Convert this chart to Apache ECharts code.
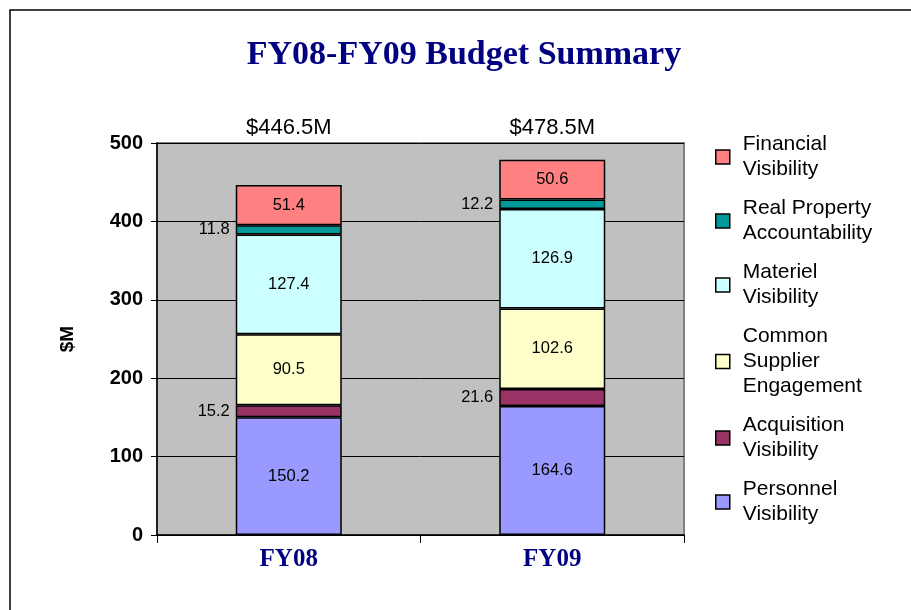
<!DOCTYPE html>
<html><head><meta charset="utf-8">
<script src="https://cdn.jsdelivr.net/npm/echarts@6/dist/echarts.min.js"></script>
<style>html,body{margin:0;padding:0;background:#fff}#c{width:911px;height:610px}</style>
</head><body><div id="c"></div>
<script>
const categories = ['FY08', 'FY09'];
const totals = ['$446.5M', '$478.5M'];
const personnel = [150.2, 164.6];
const acquisition = [15.2, 21.6];
const commonSupplier = [90.5, 102.6];
const materiel = [127.4, 126.9];
const realProperty = [11.8, 12.2];
const financial = [51.4, 50.6];
const yTicks = [0, 100, 200, 300, 400, 500];
const seriesNames = ['Personnel Visibility', 'Acquisition Visibility', 'Common Supplier Engagement', 'Materiel Visibility', 'Real Property Accountability', 'Financial Visibility'];
const legendLabels = {
  'Financial Visibility': 'Financial\nVisibility',
  'Real Property Accountability': 'Real Property\nAccountability',
  'Materiel Visibility': 'Materiel\nVisibility',
  'Common Supplier Engagement': 'Common\nSupplier\nEngagement',
  'Acquisition Visibility': 'Acquisition\nVisibility',
  'Personnel Visibility': 'Personnel\nVisibility'
};
const seriesValues = [personnel, acquisition, commonSupplier, materiel, realProperty, financial];
const colors = ['#9999FF', '#993366', '#FFFFCC', '#CCFFFF', '#009999', '#FF8080'];

const chart = echarts.init(document.getElementById('c'));
const series = seriesNames.map((name, i) => ({
  name, type: 'bar', stack: 'total', barWidth: 106,
  itemStyle: { color: colors[i], borderColor: '#000', borderWidth: 1.5 },
  label: { show: true, position: 'inside', color: '#000', fontSize: 16.5, fontFamily: 'Liberation Sans' },
  data: seriesValues[i].map(v => v < 30 ? { value: v, label: { position: 'left', distance: 6 } } : v)
}));

chart.setOption({
  animation: false,
  backgroundColor: '#fff',
  title: {
    text: 'FY08-FY09 Budget Summary', left: 459, top: 33, textAlign: 'center',
    textStyle: { fontFamily: 'Liberation Serif', fontWeight: 'bold', fontSize: 34, color: '#000080' }
  },
  graphic: [{ type: 'rect', shape: { x: 10, y: 10, width: 1000, height: 1000 }, style: { fill: 'none', stroke: '#000', lineWidth: 1.5 }, z: 100 }],
  legend: {
    orient: 'vertical', left: 715, top: 132, padding: 0, itemWidth: 14, itemHeight: 14, itemGap: 14,
    icon: 'rect', data: seriesNames.slice().reverse(),
    itemStyle: { borderColor: '#000', borderWidth: 1.5 },
    formatter: n => legendLabels[n],
    textStyle: { fontFamily: 'Liberation Sans', fontSize: 21, lineHeight: 25, color: '#000', padding: [0, 0, 0, 8] }
  },
  grid: { left: 157, right: 227, top: 143, bottom: 75, show: true, backgroundColor: '#C0C0C0', borderColor: '#808080', borderWidth: 2 },
  xAxis: [{
    type: 'category', data: categories, position: 'bottom',
    axisLine: { lineStyle: { color: '#000', width: 1.5 } },
    axisTick: { show: true, length: 8, lineStyle: { color: '#000' } },
    axisLabel: { margin: 12, fontFamily: 'Liberation Serif', fontWeight: 'bold', fontSize: 25, color: '#000080' }
  }, {
    type: 'category', data: totals, position: 'top',
    axisLine: { show: false }, axisTick: { show: false },
    axisLabel: { margin: 4, fontFamily: 'Liberation Sans', fontSize: 22, color: '#000' }
  }],
  yAxis: {
    type: 'value', min: yTicks[0], max: yTicks[yTicks.length - 1], interval: 100,
    name: '$M', nameLocation: 'middle', nameRotate: 90, nameGap: 80,
    nameTextStyle: { fontFamily: 'Liberation Sans', fontWeight: 'bold', fontSize: 19, color: '#000' },
    axisLine: { show: true, lineStyle: { color: '#000', width: 1.5 } },
    axisTick: { show: true, length: 6, lineStyle: { color: '#000' } },
    axisLabel: { margin: 14, fontFamily: 'Liberation Sans', fontWeight: 'bold', fontSize: 20, color: '#000' },
    splitLine: { show: true, lineStyle: { color: '#000', width: 1 } }
  },
  series
});
</script></body></html>
